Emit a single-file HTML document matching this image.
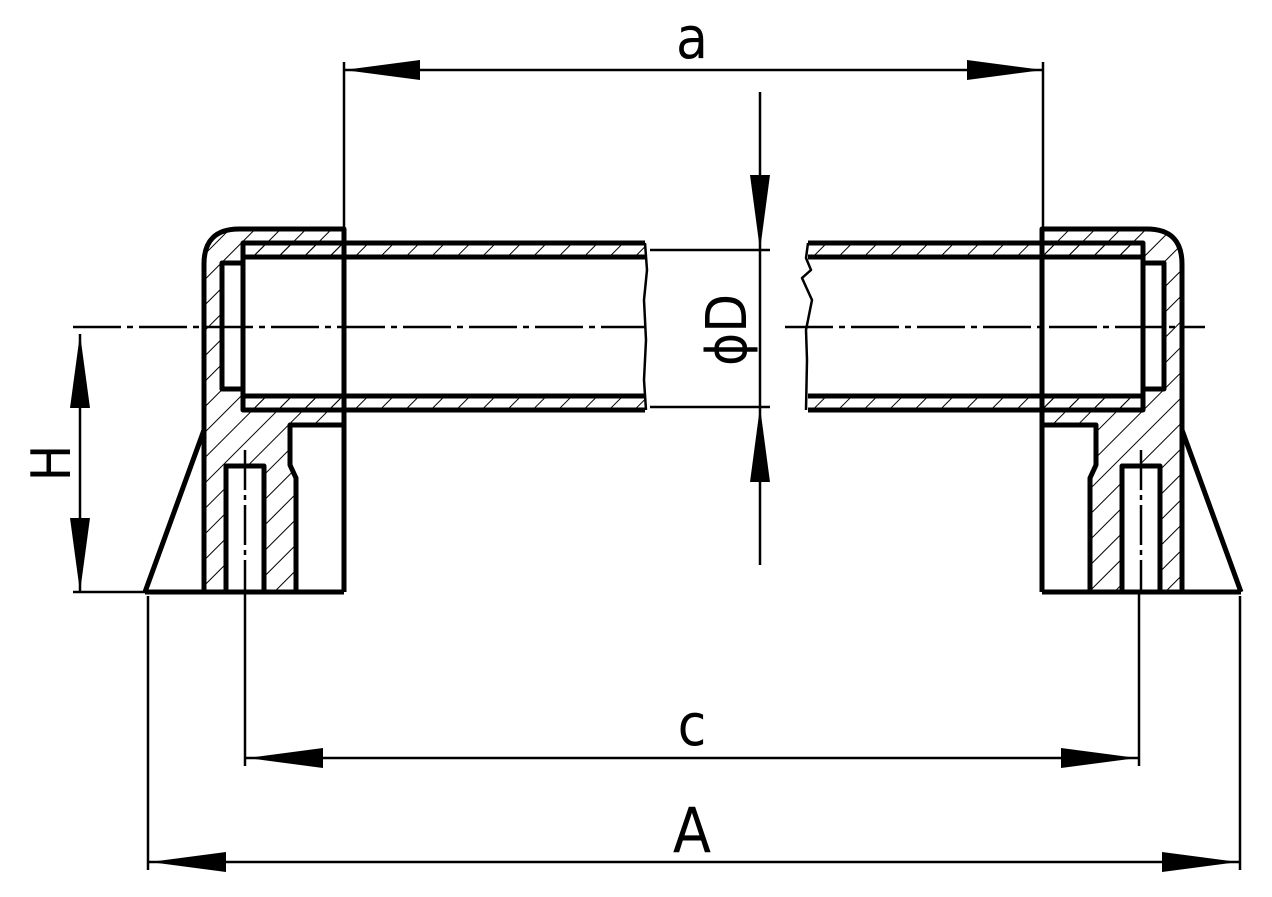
<!DOCTYPE html>
<html><head><meta charset="utf-8"><style>
html,body{margin:0;padding:0;background:#fff;}
svg{display:block;}
text{font-family:"DejaVu Sans Condensed","Liberation Sans",sans-serif;fill:#000;}
</style></head><body>
<svg width="1272" height="897" viewBox="0 0 1272 897" xmlns="http://www.w3.org/2000/svg">
<defs>
<pattern id="h" patternUnits="userSpaceOnUse" width="18" height="18" patternTransform="rotate(45)">
<line x1="0" y1="0" x2="0" y2="18" stroke="#000" stroke-width="2"/>
</pattern>
</defs>
<path fill="url(#h)" fill-rule="evenodd" d="M204,592 L204,264 Q204,229 239,229 L344,229 L344,425 L290,425 L290,465 L296,478 L296,592 Z M243,257 L344,257 L344,396 L243,396 Z M222,263 L243,263 L243,389 L222,389 Z M226,466 L264,466 L264,592 L226,592 Z"/>
<path fill="url(#h)" fill-rule="evenodd" d="M1182,592 L1182,264 Q1182,229 1147,229 L1042,229 L1042,425 L1096,425 L1096,465 L1090,478 L1090,592 Z M1143,257 L1042,257 L1042,396 L1143,396 Z M1164,263 L1143,263 L1143,389 L1164,389 Z M1160,466 L1122,466 L1122,592 L1160,592 Z"/>
<rect x="243" y="243" width="402" height="14" fill="url(#h)"/>
<rect x="243" y="396" width="402" height="14" fill="url(#h)"/>
<rect x="808" y="243" width="335" height="14" fill="url(#h)"/>
<rect x="808" y="396" width="335" height="14" fill="url(#h)"/>
<g fill="none" stroke="#000" stroke-width="5" stroke-linejoin="round">
<path d="M204,592 L204,264 Q204,229 239,229 L344,229 L344,592"/>
<path d="M145,592 L344,592"/>
<path d="M145,592 L204,430"/>
<path d="M344,425 L290,425 L290,465 L296,478 L296,592"/>
<rect x="226" y="466" width="38" height="126"/>
<rect x="222" y="263" width="21" height="126"/>
<path d="M645,243 L243,243 L243,410 L645,410"/>
<path d="M243,257 L645,257 M243,396 L645,396"/>
<path d="M645,243 L647,270 L644,300 L646,340 L644,380 L646,410" stroke-width="2.5"/>
<path d="M1182,592 L1182,264 Q1182,229 1147,229 L1042,229 L1042,592"/>
<path d="M1241,592 L1042,592"/>
<path d="M1241,592 L1182,430"/>
<path d="M1042,425 L1096,425 L1096,465 L1090,478 L1090,592"/>
<rect x="1122" y="466" width="38" height="126"/>
<rect x="1143" y="263" width="21" height="126"/>
<path d="M808,243 L1143,243 L1143,410 L808,410"/>
<path d="M808,257 L1143,257 M808,396 L1143,396"/>
<path d="M808,243 L806,258 L811,270 L802,278 L812,300 L806,330 L807,360 L806,410" stroke-width="2.5"/>
</g>
<g fill="none" stroke="#000" stroke-width="2.5">
<line x1="73" y1="327" x2="645" y2="327" stroke-dasharray="48,6,6,6"/>
<line x1="785" y1="327" x2="1205" y2="327" stroke-dasharray="48,6,6,6"/>
<line x1="245" y1="450" x2="245" y2="592" stroke-dasharray="40,5,5,5"/>
<line x1="1141" y1="450" x2="1141" y2="592" stroke-dasharray="40,5,5,5"/>
<line x1="344" y1="62" x2="344" y2="229"/>
<line x1="1043" y1="62" x2="1043" y2="229"/>
<line x1="344" y1="70" x2="1043" y2="70"/>
<line x1="760" y1="92" x2="760" y2="565"/>
<line x1="650" y1="250" x2="770" y2="250"/>
<line x1="650" y1="407" x2="770" y2="407"/>
<line x1="73" y1="592" x2="145" y2="592"/>
<line x1="80" y1="334" x2="80" y2="592"/>
<line x1="245" y1="592" x2="245" y2="766"/>
<line x1="1139" y1="592" x2="1139" y2="766"/>
<line x1="245" y1="758" x2="1139" y2="758"/>
<line x1="148" y1="596" x2="148" y2="870"/>
<line x1="1240" y1="596" x2="1240" y2="870"/>
<line x1="148" y1="862" x2="1240" y2="862"/>
</g>
<g fill="#000">
<polygon points="344,70 420,60 420,80"/>
<polygon points="1043,70 967,60 967,80"/>
<polygon points="760,250 750,175 770,175"/>
<polygon points="760,407 750,482 770,482"/>
<polygon points="80,334 70,408 90,408"/>
<polygon points="80,592 70,518 90,518"/>
<polygon points="247,758 323,748 323,768"/>
<polygon points="1137,758 1061,748 1061,768"/>
<polygon points="150,862 226,852 226,872"/>
<polygon points="1238,862 1162,852 1162,872"/>
</g>
<text x="692" y="58" font-size="58" text-anchor="middle">a</text>
<text x="692" y="745" font-size="58" text-anchor="middle">c</text>
<text x="692" y="852" font-size="62" text-anchor="middle">A</text>
<text transform="translate(70,463) rotate(-90)" font-size="54" text-anchor="middle">H</text>
<text transform="translate(746,330) rotate(-90)" font-size="56" text-anchor="middle">ϕD</text>
</svg>
</body></html>
